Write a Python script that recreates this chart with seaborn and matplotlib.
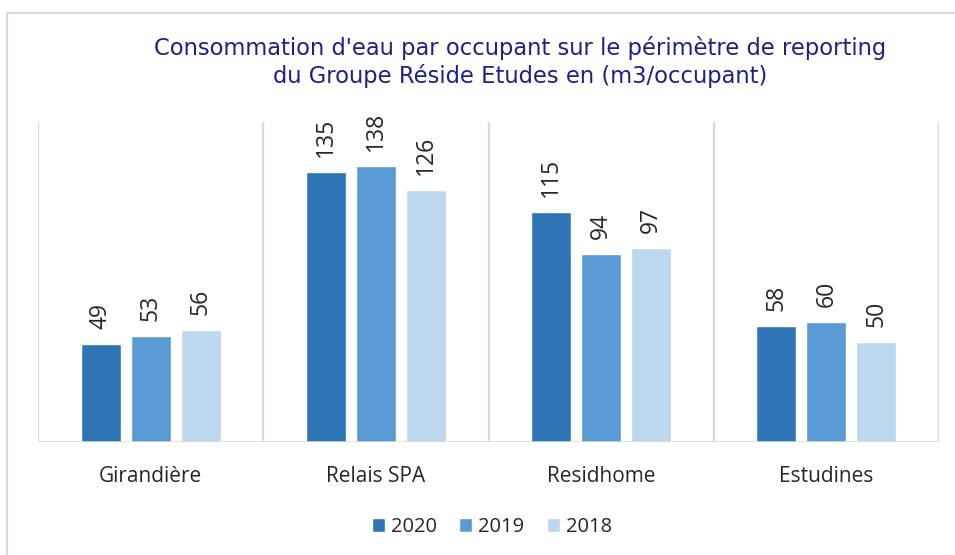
import matplotlib
matplotlib.use("Agg")
import matplotlib.pyplot as plt
import seaborn as sns
import pandas as pd
from matplotlib.patches import Rectangle

categories = ["Girandière", "Relais SPA", "Residhome", "Estudines"]
years = ["2020", "2019", "2018"]
v2020 = [49, 135, 115, 58]
v2019 = [53, 138, 94, 60]
v2018 = [56, 126, 97, 50]
colors = ["#2E75B6", "#5B9BD5", "#BDD7EE"]

title = "Consommation d'eau par occupant sur le périmètre de reporting\ndu Groupe Réside Etudes en (m3/occupant)"

rows = []
for yr, vals in zip(years, [v2020, v2019, v2018]):
    for c, v in zip(categories, vals):
        rows.append({"cat": c, "year": yr, "val": v})
df = pd.DataFrame(rows)

sns.set_theme(style="white")
plt.rcParams["font.family"] = ["Open Sans", "DejaVu Sans"]

fig = plt.figure(figsize=(9.55, 5.55), dpi=100)
ax = fig.add_axes([38/955, (555-442)/555, (939-38)/955, (442-122)/555])

sns.barplot(data=df, x="cat", y="val", hue="year", order=categories,
            hue_order=years, palette=colors, width=0.667, gap=0.2,
            saturation=1, ax=ax, legend=True)

ax.set_ylim(0, 160)
ax.set_xlim(-0.5, 3.5)
for s in ax.spines.values():
    s.set_visible(False)
ax.set_yticks([])
ax.set_xlabel("")
ax.set_ylabel("")
ax.tick_params(axis="x", length=0, pad=17, labelsize=15, colors="#262626")

for xb in [-0.5, 0.5, 1.5, 2.5, 3.5]:
    ax.axvline(xb, color="#D9D9D9", lw=1.6, zorder=0)
ax.axhline(0, color="#D9D9D9", lw=1.8, zorder=3)

for cont in ax.containers:
    for bar in cont:
        h = bar.get_height()
        ax.annotate(f"{h:.0f}", (bar.get_x() + bar.get_width()/2, h),
                    xytext=(0, 11), textcoords="offset points",
                    rotation=90, ha="center", va="bottom",
                    fontsize=16.5, color="#262626")

h, l = ax.get_legend_handles_labels()
ax.legend(h, l, loc="center", bbox_to_anchor=(492/955, 1 - 527/555),
          bbox_transform=fig.transFigure, ncol=3, frameon=False,
          fontsize=14.5, handlelength=0.65, handleheight=0.65,
          handletextpad=0.3, columnspacing=1.1, labelcolor="#262626")

fig.text(520/955, 1 - 62/555, title, ha="center", va="center",
         fontsize=16.3, color="#1F1F8C", family="DejaVu Sans",
         linespacing=1.25)

fig.patches.append(Rectangle((7/955, -0.1), 1.2, (555-13)/555 + 0.1,
                             transform=fig.transFigure, fill=False,
                             edgecolor="#D9D9D9", lw=1.6))

fig.savefig("out.png", dpi=100)
